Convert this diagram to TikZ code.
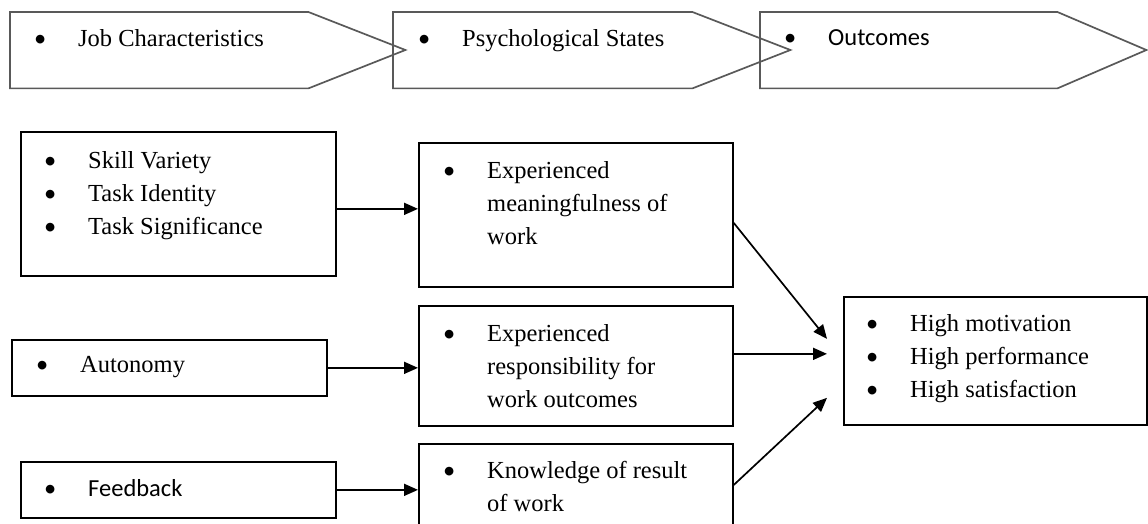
\documentclass[tikz,border=0pt]{standalone}
\usepackage{fontspec}
\setmainfont{Liberation Serif}
\newfontfamily\sansfam{Carlito}
\usetikzlibrary{arrows.meta,calc}
\tikzset{
  box/.style={draw,line width=1.7pt,inner sep=0pt,anchor=north west},
  stagebody/.style={inner sep=0pt,anchor=north west,minimum height=76pt},
  stageline/.style={draw=black!65,line width=1.7pt},
  txt/.style={anchor=north west,inner sep=0pt,align=left,font=\fontsize{24.5}{33}\selectfont},
  sanstxt/.style={txt,font=\sansfam\fontsize{24.5}{33}\selectfont},
  ar/.style={-{Triangle[length=14pt,width=12pt]},line width=1.7pt}
}
\newcommand{\bul}{\makebox[44pt][l]{{\sansfam\textbullet}}}
\newcommand{\cont}{\hspace*{44pt}}
\newcommand{\stagearrow}[2]{\draw[stageline] (#1.north west) -- (#1.north east)
  -- ++(#2,38) -- (#1.south east) -- (#1.south west) -- cycle;}

\begin{document}
\begin{tikzpicture}[x=1pt,y=-1pt]
  \useasboundingbox (0,0) rectangle (1148,524);
  % stage arrows along the top
  \node[stagebody,minimum width=298pt] (jc) at (10,12) {};
  \node[stagebody,minimum width=299pt] (ps) at (393,12) {};
  \node[stagebody,minimum width=297pt] (oc) at (760,12) {};
  \stagearrow{jc}{97}
  \stagearrow{ps}{98}
  \stagearrow{oc}{89}
  \node[txt] (jctext) at (34,29) {\bul Job Characteristics};
  \node[txt] (pstext) at (418,29) {\bul Psychological States};
  \node[sanstxt] (octext) at (784,29) {\bul Outcomes};

  % job characteristics
  \node[box,minimum width=315pt,minimum height=144pt] (skills) at (20,131) {};
  \node[box,minimum width=315pt,minimum height=56pt] (auton) at (11,339) {};
  \node[box,minimum width=315pt,minimum height=56pt] (feedb) at (20,461) {};
  \node[txt] (skillstext) at (44,151) {\bul Skill Variety\\\bul Task Identity\\\bul Task Significance};
  \node[txt] (autontext) at (36,356) {\bul Autonomy};
  \node[sanstxt] (feedbtext) at (44,479) {\bul Feedback};

  % psychological states
  \node[box,minimum width=314pt,minimum height=144pt] (mean) at (418,142) {};
  \node[box,minimum width=314pt,minimum height=120pt] (resp) at (418,305) {};
  \node[box,minimum width=314pt,minimum height=90pt] (know) at (418,443) {};
  \node[txt] (meantext) at (443,161) {\bul Experienced\\\cont meaningfulness of\\\cont work};
  \node[txt] (resptext) at (443,324) {\bul Experienced\\\cont responsibility for\\\cont work outcomes};
  \node[txt] (knowtext) at (443,461) {\bul Knowledge of result\\\cont of work};

  % outcomes
  \node[box,minimum width=303pt,minimum height=128pt] (outc) at (843,296) {};
  \node[txt] (outctext) at (866,314) {\bul High motivation\\\bul High performance\\\bul High satisfaction};
  \coordinate (in1) at ($(outc.west)+(-16,-22)$);
  \coordinate (in2) at ($(outc.west)+(-16,-7)$);
  \coordinate (in3) at ($(outc.west)+(-16,37)$);

  \draw[ar] ([yshift=-5pt]skills.east) coordinate (s1) -- (s1 -| mean.west);
  \draw[ar] (auton.east) -- (auton.east -| resp.west);
  \draw[ar] (feedb.east) -- (feedb.east -| know.west);
  \draw[ar] ([yshift=-8pt]mean.east) -- (in1);
  \draw[ar] ([yshift=12pt]resp.east) -- (in2);
  \draw[ar] ([yshift=-42pt]know.north east) -- (in3);
\end{tikzpicture}
\end{document}
